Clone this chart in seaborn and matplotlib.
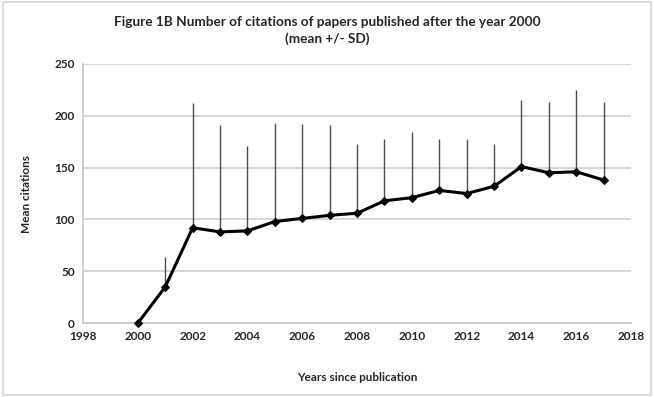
import numpy as np
import pandas as pd
import matplotlib
matplotlib.use("Agg")
import matplotlib.pyplot as plt
import seaborn as sns
from matplotlib.patches import Rectangle

years = [2000, 2001, 2002, 2003, 2004, 2005, 2006, 2007, 2008,
         2009, 2010, 2011, 2012, 2013, 2014, 2015, 2016, 2017]
mean_citations = [0, 35, 92, 88, 89, 98, 101, 104, 106,
                  118, 121, 128, 125, 132, 151, 145, 146, 138]
sd_citations = [0, 29, 120, 103, 82, 95, 91, 87, 67,
                60, 63, 50, 53, 41, 64, 68, 79, 75]
x_ticks = list(range(1998, 2019, 2))
y_ticks = [0, 50, 100, 150, 200, 250]

sns.set_theme(style="white")
plt.rcParams["font.family"] = ["Lato", "DejaVu Sans"]

df = pd.DataFrame({"year": years, "mean": mean_citations, "sd": sd_citations})

fig = plt.figure(figsize=(6.54, 3.97), dpi=100)
ax = fig.add_axes([0.127, 0.186, 0.838, 0.653])

# upper SD whiskers
ax.errorbar(df["year"], df["mean"], yerr=[np.zeros(len(df)), df["sd"]],
            fmt="none", ecolor="#4d4d4d", elinewidth=1.0, capsize=0, zorder=2)

sns.lineplot(data=df, x="year", y="mean", ax=ax, color="black", linewidth=2.2,
             marker="D", markersize=4.5, markeredgecolor="black", zorder=3,
             clip_on=False)

ax.set_xlim(1998, 2018)
ax.set_ylim(0, 250)
ax.set_xticks(x_ticks)
ax.set_yticks(y_ticks)
ax.tick_params(axis="both", length=0, labelsize=8.5, pad=6)
for lab in ax.get_xticklabels() + ax.get_yticklabels():
    lab.set_fontweight("bold")
ax.yaxis.grid(True, color="#d0d0d0", linewidth=1.2)
ax.xaxis.grid(False)
for side in ["top", "right"]:
    ax.spines[side].set_visible(False)
for side in ["left", "bottom"]:
    ax.spines[side].set_color("#c8c8c8")
    ax.spines[side].set_linewidth(1.2)

ax.set_xlabel("Years since publication", fontsize=8.5, fontweight="bold", labelpad=21)
ax.set_ylabel("Mean citations", fontsize=8.5, fontweight="bold", labelpad=16)

fig.text(0.5, 0.96, "Figure 1B Number of citations of papers published after the year 2000\n(mean +/- SD)",
         ha="center", va="top", fontsize=9.8, fontweight="bold", linespacing=1.45)

fig.patches.append(Rectangle((0.004, 0.006), 0.992, 0.988, transform=fig.transFigure,
                             fill=False, edgecolor="#d6d6d6", linewidth=1.2))

fig.savefig("out.png", dpi=100)
